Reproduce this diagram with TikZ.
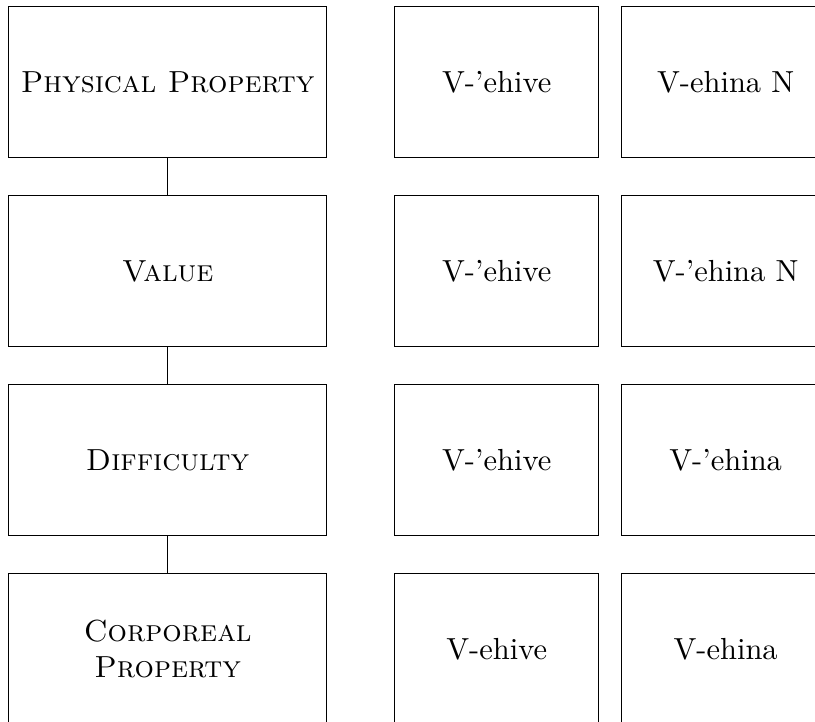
\documentclass[tikz,border=0pt]{standalone}
\begin{document}
\begin{tikzpicture}[x=0.328pt,y=-0.328pt,
  box/.style={draw,line width=0.45pt,anchor=north west,inner sep=0pt,align=center,minimum height=49.5pt},
  leftbox/.style={box,minimum width=104.3pt},
  midbox/.style={box,minimum width=66.9pt},
  rightbox/.style={box,minimum width=68.5pt},
  link/.style={line width=0.45pt}]
\clip (0,0) rectangle (815,722);
\useasboundingbox (0,0) rectangle (815,722);
\node[leftbox] (p1) at (8,6) {\textsc{Physical Property}};
\node[leftbox] (p2) at (8,195) {\textsc{Value}};
\node[leftbox] (p3) at (8,384) {\textsc{Difficulty}};
\node[leftbox] (p4) at (8,573) {\textsc{Corporeal}\\\textsc{Property}};
\node[midbox] (m1) at (394,6) {V-'ehive};
\node[midbox] (m2) at (394,195) {V-'ehive};
\node[midbox] (m3) at (394,384) {V-'ehive};
\node[midbox] (m4) at (394,573) {V-ehive};
\node[rightbox] (r1) at (620.5,6) {V-ehina N};
\node[rightbox] (r2) at (620.5,195) {V-'ehina N};
\node[rightbox] (r3) at (620.5,384) {V-'ehina};
\node[rightbox] (r4) at (620.5,573) {V-ehina};
\draw[link] (p1.south) -- (p2.north);
\draw[link] (p2.south) -- (p3.north);
\draw[link] (p3.south) -- (p4.north);
\end{tikzpicture}
\end{document}
